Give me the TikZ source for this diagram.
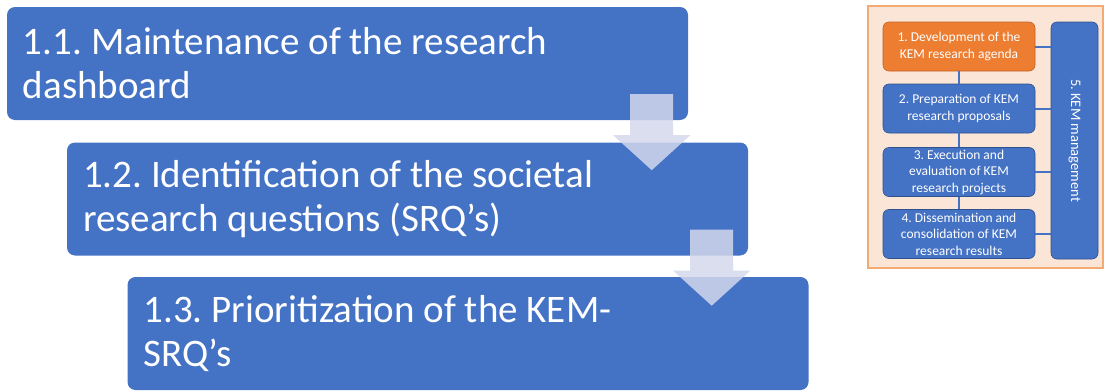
\documentclass[tikz,border=0pt]{standalone}
\usepackage{fontspec}
\setmainfont{Carlito}
\usepackage{tikz}
\usetikzlibrary{calc}
\usetikzlibrary{positioning}
\definecolor{kemblue}{RGB}{68,114,196}
\definecolor{kemorange}{RGB}{237,125,49}
\definecolor{kemedge}{RGB}{47,82,143}
\definecolor{panelfill}{RGB}{251,229,214}
\definecolor{paneledge}{RGB}{244,170,115}
\definecolor{arrowfill}{RGB}{211,216,236}
\frenchspacing
\tikzset{>=latex}
\tikzstyle{mainbox} = [rectangle, rounded corners = 8, fill = kemblue, draw = none, text = white, align = flush left, text width = 649, inner xsep = 16, minimum height = 113, font = \fontsize{39}{44}\selectfont]
\tikzstyle{flowarrow} = [fill = arrowfill, fill opacity = 0.85, draw = none]
\tikzstyle{stepbox} = [rectangle, rounded corners = 6, fill = kemblue, draw = kemedge, line width = 0.6, text = white, align = center, minimum width = 152, minimum height = 49, inner sep = 1, font = \fontsize{13.5}{16.5}\selectfont]
\tikzstyle{link} = [-, draw = kemblue, line width = 2]

\begin{document}
\begin{tikzpicture}[x = 1pt, y = -1pt]
\useasboundingbox (0, 0) rectangle (1104, 391);
% left: the three sub-steps of step 1
\node [mainbox] (m11) at (347.5, 63.5) {1.1. Maintenance of the research\\dashboard};
\node [mainbox] (m12) at (407.5, 199) {1.2. Identification of the societal\\research questions (SRQ’s)};
\node [mainbox] (m13) at (468, 333.5) {1.3. Prioritization of the KEM-\\SRQ’s};
\fill [flowarrow] ($(m11.south east)+(-58,-26)$) -- ++(43,0) -- ++(0,41) -- ++(17,0)
  -- ($(m11.south east)+(-36.5,50)$) -- ($(m11.south east)+(-75,15)$) -- ++(17,0) -- cycle;
\fill [flowarrow] ($(m12.south east)+(-58,-26)$) -- ++(43,0) -- ++(0,41) -- ++(17,0)
  -- ($(m12.south east)+(-36.5,50)$) -- ($(m12.south east)+(-75,15)$) -- ++(17,0) -- cycle;
% right: overview of the KEM process
\node [rectangle, fill = panelfill, draw = paneledge, line width = 1.5, minimum width = 235, minimum height = 262] (panel) at (985.5, 137) {};
\node [stepbox, fill = kemorange, draw = kemorange!80!black] (s1) at (959, 46.5) {1. Development of the\\KEM research agenda};
\node [stepbox] (s2) at (959, 108.5) {2. Preparation of KEM\\research proposals};
\node [stepbox] (s3) at (959, 172) {3. Execution and\\evaluation of KEM\\research projects};
\node [stepbox] (s4) at (959, 234) {4. Dissemination and\\consolidation of KEM\\research results};
\node [stepbox, rotate = -90, minimum width = 237, minimum height = 47, font = \fontsize{14.5}{16}\selectfont] (s5) at (1074.5, 140.5) {5. KEM management};
\draw [link] (s1) to (s2);
\draw [link] (s2) to (s3);
\draw [link] (s3) to (s4);
\draw [link] (s1.east) to (s1.east -| s5.south);
\draw [link] (s2.east) to (s2.east -| s5.south);
\draw [link] (s3.east) to (s3.east -| s5.south);
\draw [link] (s4.east) to (s4.east -| s5.south);
\end{tikzpicture}
\end{document}
